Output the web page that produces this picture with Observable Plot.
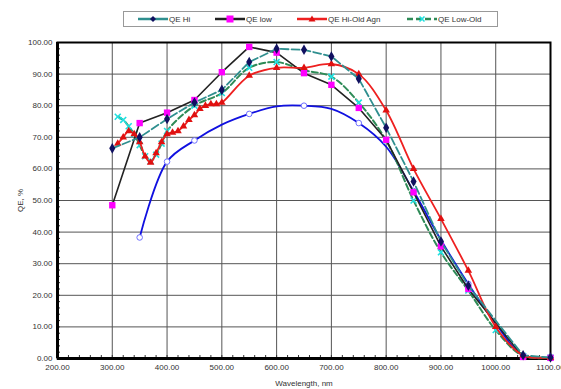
<!DOCTYPE html>
<html><head><meta charset="utf-8">
<script src="https://cdn.jsdelivr.net/npm/d3@7"></script>
<script src="https://cdn.jsdelivr.net/npm/@observablehq/plot@0.6"></script>
<style>
body{margin:0;background:#fff;font-family:"Liberation Sans",Arial,sans-serif;}
#legend{position:relative;height:32px;width:561px;}
#legend .box{position:absolute;left:123px;top:11px;width:375px;height:16px;border:1px solid #999;box-sizing:border-box;}
#legend .item{position:absolute;top:12px;height:14px;display:flex;align-items:center;font-size:8px;color:#333;}
</style></head><body>
<div id="legend"><div class="box"></div></div>
<div id="chart"></div>
<script>
// Wavelengths and QE values (%)
const hiWl = [300,350,400,450,500,550,600,650,700,750,800,850,900,950,1050,1100];
const hiQE = [66.5,70,75.8,81,85,93.8,98,97.7,95.6,88.5,73,56,37,23,1,0.3];

const lowWl = [300,350,400,450,500,550,600,650,700,750,800,850,900,950,1050,1100];
const lowQE = [48.5,74.5,77.8,81.8,90.6,98.6,96.8,90.3,86.6,79.3,69.2,52.6,35.5,22,0.5,0.2];

const agnWl = [310,320,330,340,350,360,370,380,390,400,410,420,430,440,450,460,470,480,490,500,550,600,650,700,750,800,850,900,950,1000,1050,1100];
const agnQE = [68,70,72,71,68.5,64,62,65,68.5,71,71.5,72,73.5,75.5,77,79,80,80.5,80.5,81,89.5,92,92,93.2,90,78.5,60,44.2,27.8,10,1,0.3];

const lowOldWl = [310,320,330,340,350,360,370,380,390,400,450,500,550,600,650,700,750,800,850,900,950,1000,1050,1100];
const lowOldQE = [76.5,75.5,73.5,71,67.5,64,62.5,64.5,68,72,80,84,92,93.8,91.2,89.2,81,69,50,33.6,21.5,9,0.8,0.3];

const blueWl = [350,400,450,500,550,600,650,700,750,800,850,900,950,1000,1050,1100];
const blueQE = [38.3,62.3,69,74,77.4,79.8,80,79,74.5,67,53,37.5,23.6,11,1,0.3];
const blueMarkWl = [350,400,450,550,650,750,850,950];

const xTicks = [200,300,400,500,600,700,800,900,1000,1100];
const yTicks = [0,10,20,30,40,50,60,70,80,90,100];
const xMinor = d3.range(200,1101,20);
const yMinor = d3.range(0,101,2);

const series = [
  {name:"QE Hi", wl:hiWl, qe:hiQE},
  {name:"QE low", wl:lowWl, qe:lowQE},
  {name:"QE Hi-Old Agn", wl:agnWl, qe:agnQE},
  {name:"QE Low-Old", wl:lowOldWl, qe:lowOldQE},
  {name:"blue", wl:blueWl, qe:blueQE}
];
const rows = s => s.wl.map((w,i)=>({x:w, y:s.qe[i]}));
const hi = rows(series[0]), low = rows(series[1]), agn = rows(series[2]), lowOld = rows(series[3]), blue = rows(series[4]);
const blueMarks = blue.filter(d => blueMarkWl.includes(d.x));

const fmt = d => d.toFixed(2);

const chart = Plot.plot({
  width: 561, height: 357,
  marginTop: 10, marginBottom: 31, marginLeft: 57, marginRight: 11,
  style: {fontFamily: "Liberation Sans, Arial, sans-serif", fontSize: "8px", color: "#333", background: "#fff"},
  x: {domain: [200,1100]},
  y: {domain: [0,100]},
  marks: [
    Plot.gridX(xTicks, {stroke: "#555", strokeOpacity: 1, strokeWidth: 1}),
    Plot.gridY(yTicks, {stroke: "#555", strokeOpacity: 1, strokeWidth: 1}),
    Plot.axisX(xMinor, {tickSize: -3, tickFormat: () => "", stroke: "#333", label: null}),
    Plot.axisY(yMinor, {tickSize: -3, tickFormat: () => "", stroke: "#333", label: null}),
    Plot.axisX(xTicks, {tickSize: 0, tickPadding: 6, tickFormat: fmt, label: "Wavelength, nm", labelAnchor: "center", labelArrow: "none", labelOffset: 27, fill: "#333"}),
    Plot.axisY(yTicks, {tickSize: 0, tickPadding: 5, tickFormat: fmt, label: "QE, %", labelAnchor: "center", labelArrow: "none", labelOffset: 40, fill: "#333"}),
    Plot.frame({stroke: "#000", strokeWidth: 2}),
    Plot.ruleX([200], {stroke: "#000", strokeWidth: 3}),
    Plot.ruleY([0], {stroke: "#000", strokeWidth: 3}),
    // blue (no legend)
    Plot.line(blue, {x: "x", y: "y", stroke: "#1010e0", strokeWidth: 1.8, curve: "catmull-rom"}),
    Plot.dot(blueMarks, {x: "x", y: "y", r: 2.8, stroke: "#7070ff", fill: "#fff", strokeWidth: 1}),
    // QE Low-Old
    Plot.line(lowOld, {x: "x", y: "y", stroke: "#2e8b57", strokeWidth: 2, strokeDasharray: "6,3", curve: "catmull-rom"}),
    Plot.dot(lowOld, {x: "x", y: "y", symbol: "times", r: 2.8, stroke: "#20e0e0", strokeWidth: 1.6}),
    // QE low
    Plot.line(low, {x: "x", y: "y", stroke: "#222", strokeWidth: 1.6}),
    Plot.dot(low, {x: "x", y: "y", symbol: "square", r: 3.6, fill: "#ff00ff"}),
    // QE Hi-Old Agn
    Plot.line(agn, {x: "x", y: "y", stroke: "#ee2020", strokeWidth: 1.8, curve: "catmull-rom"}),
    Plot.dot(agn, {x: "x", y: "y", symbol: "triangle", r: 2.8, fill: "#e01010"}),
    // QE Hi
    Plot.line(hi, {x: "x", y: "y", stroke: "#2f8f8f", strokeWidth: 1.8, strokeDasharray: "8,3"}),
    Plot.dot(hi, {x: "x", y: "y", symbol: "diamond", r: 3.2, fill: "#101060"})
  ]
});
document.getElementById("chart").appendChild(chart);

// legend
const legendItems = [
  {name: series[0].name, left: 138, line: "#2f8f8f", dash: null, mark: "diamond", mcol: "#101060"},
  {name: series[1].name, left: 215, line: "#222", dash: null, mark: "square", mcol: "#ff00ff"},
  {name: series[2].name, left: 297, line: "#ee2020", dash: null, mark: "triangle", mcol: "#e01010"},
  {name: series[3].name, left: 407, line: "#2e8b57", dash: "6,3", mark: "times", mcol: "#20e0e0"}
];
const leg = document.getElementById("legend");
for (const it of legendItems) {
  const div = document.createElement("div");
  div.className = "item";
  div.style.left = it.left + "px";
  let m = "";
  if (it.mark === "diamond") m = `<path d="M15,4 L18,7 L15,10 L12,7Z" fill="${it.mcol}"/>`;
  else if (it.mark === "square") m = `<rect x="11.5" y="3.5" width="7" height="7" fill="${it.mcol}"/>`;
  else if (it.mark === "triangle") m = `<path d="M15,3.5 L18.5,9.5 L11.5,9.5Z" fill="${it.mcol}"/>`;
  else m = `<path d="M12.5,4.5 L17.5,9.5 M17.5,4.5 L12.5,9.5" stroke="${it.mcol}" stroke-width="1.6"/>`;
  div.innerHTML = `<svg width="31" height="14"><line x1="0" x2="30" y1="7" y2="7" stroke="${it.line}" stroke-width="2.5" ${it.dash ? `stroke-dasharray="${it.dash}"` : ""}/>${m}</svg><span>${it.name}</span>`;
  leg.appendChild(div);
}
</script>
</body></html>
